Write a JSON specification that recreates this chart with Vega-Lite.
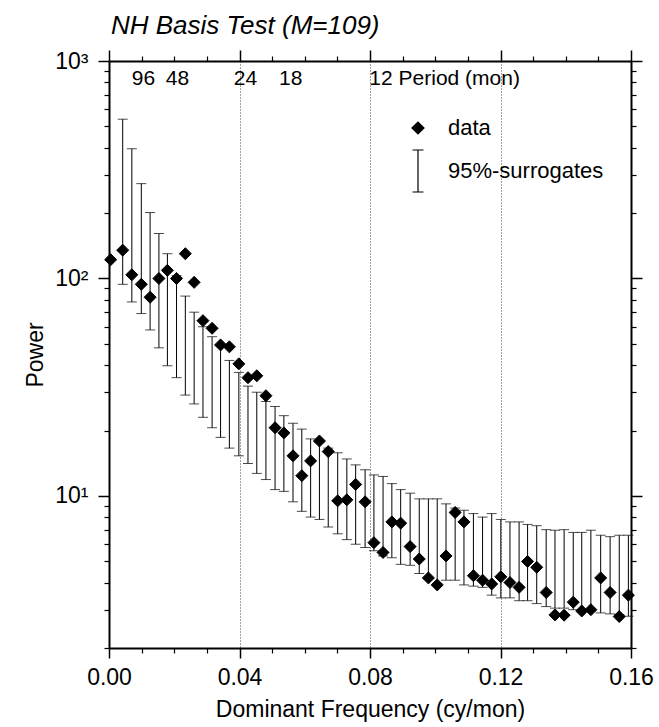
{
  "$schema": "https://vega.github.io/schema/vega-lite/v6.json",
  "width": 522,
  "height": 587,
  "autosize": {"type": "none"},
  "padding": {"left": 109, "top": 61, "right": 28, "bottom": 79},
  "background": "white",
  "config": {
    "view": {"stroke": null},
    "font": "Liberation Sans",
    "axis": {
      "labelColor": "black", "titleColor": "black", "tickColor": "black", "domainColor": "black",
      "labelFont": "Liberation Sans", "titleFont": "Liberation Sans", "titleFontWeight": "normal",
      "labelOverlap": false, "labelFlush": false, "labelBound": false
    },
    "legend": {"orient": "none", "legendX": 287, "legendY": 56, "title": null, "labelFontSize": 22,
      "labelFont": "Liberation Sans", "labelColor": "black", "symbolStrokeWidth": 1.2, "labelOffset": 8,
      "rowPadding": 8, "padding": 0}
  },
  "title": {
    "text": "NH Basis Test (M=109)", "anchor": "start", "frame": "group",
    "fontStyle": "italic", "fontWeight": "normal", "fontSize": 26, "font": "Liberation Sans",
    "color": "black", "baseline": "alphabetic", "offset": -11, "dx": 2
  },
  "data": {"values": [
    {"f": 0.0005, "p": 122},
    {"f": 0.0042, "p": 135, "lo": 94, "hi": 540},
    {"f": 0.0070, "p": 104, "lo": 78, "hi": 395},
    {"f": 0.0099, "p": 94, "lo": 69, "hi": 273},
    {"f": 0.0126, "p": 82, "lo": 58, "hi": 201},
    {"f": 0.0153, "p": 100, "lo": 48, "hi": 161},
    {"f": 0.0179, "p": 109, "lo": 39.7, "hi": 130},
    {"f": 0.0207, "p": 100, "lo": 35, "hi": 103},
    {"f": 0.0234, "p": 130, "lo": 29.1, "hi": 83},
    {"f": 0.0261, "p": 96, "lo": 26.5, "hi": 70},
    {"f": 0.0288, "p": 64, "lo": 23.0, "hi": 60},
    {"f": 0.0316, "p": 59, "lo": 20.6, "hi": 54},
    {"f": 0.0342, "p": 49.5, "lo": 18.6, "hi": 49},
    {"f": 0.0369, "p": 48.5, "lo": 16.6, "hi": 42},
    {"f": 0.0398, "p": 40.5, "lo": 15.3, "hi": 37},
    {"f": 0.0426, "p": 35, "lo": 14.1, "hi": 32},
    {"f": 0.0453, "p": 35.7, "lo": 12.7, "hi": 30},
    {"f": 0.0481, "p": 28.9, "lo": 11.9, "hi": 27.2},
    {"f": 0.0509, "p": 20.6, "lo": 10.7, "hi": 25.8},
    {"f": 0.0536, "p": 19.5, "lo": 10.5, "hi": 23.4},
    {"f": 0.0564, "p": 15.3, "lo": 9.4, "hi": 21.6},
    {"f": 0.0591, "p": 12.4, "lo": 8.5, "hi": 20.3},
    {"f": 0.0618, "p": 14.5, "lo": 8.0, "hi": 18.3},
    {"f": 0.0645, "p": 17.9, "lo": 7.8, "hi": 17.6},
    {"f": 0.0672, "p": 16.0, "lo": 7.2, "hi": 16.6},
    {"f": 0.0701, "p": 9.5, "lo": 6.7, "hi": 15.8},
    {"f": 0.0729, "p": 9.6, "lo": 6.3, "hi": 14.8},
    {"f": 0.0756, "p": 11.3, "lo": 6.0, "hi": 13.9},
    {"f": 0.0785, "p": 9.4, "lo": 5.8, "hi": 13.2},
    {"f": 0.0812, "p": 6.1, "lo": 5.6, "hi": 12.5},
    {"f": 0.0840, "p": 5.5, "lo": 5.3, "hi": 12.3},
    {"f": 0.0867, "p": 7.6, "lo": 5.2, "hi": 11.4},
    {"f": 0.0894, "p": 7.5, "lo": 4.85, "hi": 10.7},
    {"f": 0.0923, "p": 5.85, "lo": 4.8, "hi": 10.3},
    {"f": 0.0951, "p": 5.13, "lo": 4.4, "hi": 9.7},
    {"f": 0.0979, "p": 4.2, "lo": 4.15, "hi": 9.7},
    {"f": 0.1006, "p": 3.9, "lo": 3.95, "hi": 9.7},
    {"f": 0.1033, "p": 5.3, "lo": 4.1, "hi": 9.2},
    {"f": 0.1061, "p": 8.4, "lo": 4.1, "hi": 8.8},
    {"f": 0.1088, "p": 7.6, "lo": 3.9, "hi": 8.6},
    {"f": 0.1117, "p": 4.3, "lo": 3.85, "hi": 8.3},
    {"f": 0.1145, "p": 4.1, "lo": 3.8, "hi": 8.0},
    {"f": 0.1173, "p": 3.94, "lo": 3.5, "hi": 8.3},
    {"f": 0.1201, "p": 4.25, "lo": 3.4, "hi": 7.8},
    {"f": 0.1229, "p": 4.0, "lo": 3.4, "hi": 7.6},
    {"f": 0.1257, "p": 3.8, "lo": 3.3, "hi": 7.6},
    {"f": 0.1283, "p": 5.0, "lo": 3.3, "hi": 7.4},
    {"f": 0.1311, "p": 4.7, "lo": 3.2, "hi": 7.3},
    {"f": 0.1340, "p": 3.6, "lo": 3.1, "hi": 7.0},
    {"f": 0.1367, "p": 2.84, "lo": 3.05, "hi": 6.96},
    {"f": 0.1395, "p": 2.83, "lo": 3.05, "hi": 7.0},
    {"f": 0.1423, "p": 3.25, "lo": 3.0, "hi": 6.8},
    {"f": 0.1449, "p": 2.96, "lo": 2.95, "hi": 6.8},
    {"f": 0.1477, "p": 3.0, "lo": 2.95, "hi": 6.96},
    {"f": 0.1507, "p": 4.2, "lo": 2.9, "hi": 6.6},
    {"f": 0.1536, "p": 3.6, "lo": 2.87, "hi": 6.5},
    {"f": 0.1564, "p": 2.79, "lo": 2.85, "hi": 6.6},
    {"f": 0.1592, "p": 3.5, "lo": 2.8, "hi": 6.6}
  ]},
  "resolve": {"axis": {"x": "independent", "y": "independent"}},
  "layer": [
    {
      "mark": {"type": "rule", "color": "black", "strokeWidth": 1},
      "encoding": {
        "x": {"field": "f", "type": "quantitative", "scale": {"domain": [0, 0.16], "nice": false, "zero": false},
          "axis": {"orient": "bottom", "values": [0, 0.04, 0.08, 0.12, 0.16], "format": ".2f", "tickSize": 10, "tickWidth": 1.5,
            "labelFontSize": 23, "labelPadding": 8, "grid": true, "gridDash": [1, 2], "gridColor": "#444", "gridWidth": 1,
            "domainWidth": 2, "title": "Dominant Frequency (cy/mon)", "titleFontSize": 23, "titlePadding": 9}},
        "y": {"field": "lo", "type": "quantitative", "scale": {"type": "log", "domain": [2, 1000], "nice": false},
          "axis": {"orient": "left", "values": [10, 100, 1000],
            "labelExpr": "datum.value >= 1000 ? '10³' : datum.value >= 100 ? '10²' : '10¹'",
            "tickSize": 11, "tickWidth": 1.5, "labelFontSize": 23, "labelPadding": 10, "grid": false,
            "domainWidth": 2, "title": "Power", "titleFontSize": 23, "titlePadding": 7}},
        "y2": {"field": "hi"}
      }
    },
    {
      "mark": {"type": "tick", "orient": "horizontal", "color": "black", "size": 10, "thickness": 1},
      "encoding": {
        "x": {"field": "f", "type": "quantitative", "scale": {"domain": [0, 0.16], "nice": false, "zero": false},
          "axis": {"orient": "bottom", "values": [0.01, 0.02, 0.03, 0.05, 0.06, 0.07, 0.09, 0.10, 0.11, 0.13, 0.14, 0.15],
            "tickSize": 5, "tickWidth": 1.2, "labels": false, "domain": false, "grid": false, "title": null}},
        "y": {"field": "hi", "type": "quantitative", "scale": {"type": "log", "domain": [2, 1000], "nice": false},
          "axis": {"orient": "left", "values": [2, 3, 4, 5, 6, 7, 8, 9, 20, 30, 40, 50, 60, 70, 80, 90, 200, 300, 400, 500, 600, 700, 800, 900],
            "tickSize": 5, "tickWidth": 1.2, "labels": false, "domain": false, "grid": false, "title": null}}
      }
    },
    {
      "mark": {"type": "tick", "orient": "horizontal", "color": "black", "size": 10, "thickness": 1},
      "encoding": {
        "x": {"field": "f", "type": "quantitative", "scale": {"domain": [0, 0.16], "nice": false, "zero": false},
          "axis": {"orient": "top", "values": [0, 0.04, 0.08, 0.12, 0.16], "tickSize": 11, "tickWidth": 1.5,
            "labels": false, "domainWidth": 2, "grid": false, "title": null}},
        "y": {"field": "lo", "type": "quantitative", "scale": {"type": "log", "domain": [2, 1000], "nice": false},
          "axis": {"orient": "right", "values": [10, 100, 1000], "tickSize": 11, "tickWidth": 1.5,
            "labels": false, "domainWidth": 2, "grid": false, "title": null}}
      }
    },
    {
      "mark": {"type": "point", "filled": true, "strokeWidth": 1, "opacity": 1},
      "encoding": {
        "x": {"field": "f", "type": "quantitative", "scale": {"domain": [0, 0.16], "nice": false, "zero": false},
          "axis": {"orient": "top", "values": [0.01, 0.02, 0.03, 0.05, 0.06, 0.07, 0.09, 0.10, 0.11, 0.13, 0.14, 0.15],
            "tickSize": 5, "tickWidth": 1.2, "labels": false, "domain": false, "grid": false, "title": null}},
        "y": {"field": "p", "type": "quantitative", "scale": {"type": "log", "domain": [2, 1000], "nice": false},
          "axis": {"orient": "right", "values": [2, 3, 4, 5, 6, 7, 8, 9, 20, 30, 40, 50, 60, 70, 80, 90, 200, 300, 400, 500, 600, 700, 800, 900],
            "tickSize": 5, "tickWidth": 1.2, "labels": false, "domain": false, "grid": false, "title": null}},
        "shape": {"datum": "data", "type": "nominal",
          "scale": {"domain": ["data", "95%-surrogates"], "range": ["diamond", "M0,-1L0,1M-0.26,-1L0.26,-1M-0.26,1L0.26,1"]}},
        "size": {"datum": "data", "type": "nominal",
          "scale": {"domain": ["data", "95%-surrogates"], "range": [144, 1764]}},
        "fill": {"datum": "data", "type": "nominal",
          "scale": {"domain": ["data", "95%-surrogates"], "range": ["black", "black"]}},
        "stroke": {"datum": "data", "type": "nominal",
          "scale": {"domain": ["data", "95%-surrogates"], "range": ["black", "black"]}}
      }
    },
    {
      "data": {"values": [
        {"period": 96, "freq": 0.0104167},
        {"period": 48, "freq": 0.0208333},
        {"period": 24, "freq": 0.0416667},
        {"period": 18, "freq": 0.0555556},
        {"period": 12, "freq": 0.0833333}
      ]},
      "mark": {"type": "point", "opacity": 0},
      "encoding": {
        "x": {"field": "freq", "type": "quantitative", "scale": {"domain": [0, 0.16], "nice": false, "zero": false},
          "axis": {"orient": "top", "values": [0.0104167, 0.0208333, 0.0416667, 0.0555556, 0.0833333],
            "labelExpr": "datum.value > 0.08 ? '12 Period (mon)' : format(1 / datum.value, '.0f')",
            "ticks": false, "tickSize": 0, "domain": false, "grid": false, "title": null,
            "labelFontSize": 21, "labelPadding": -23, "labelBaseline": "alphabetic",
            "labelAlign": {"condition": {"test": "datum.value > 0.08", "value": "left"}, "value": "center"},
            "labelOffset": {"condition": {"test": "datum.value > 0.08", "value": -12}, "value": 0}}}
      }
    }
  ]
}
